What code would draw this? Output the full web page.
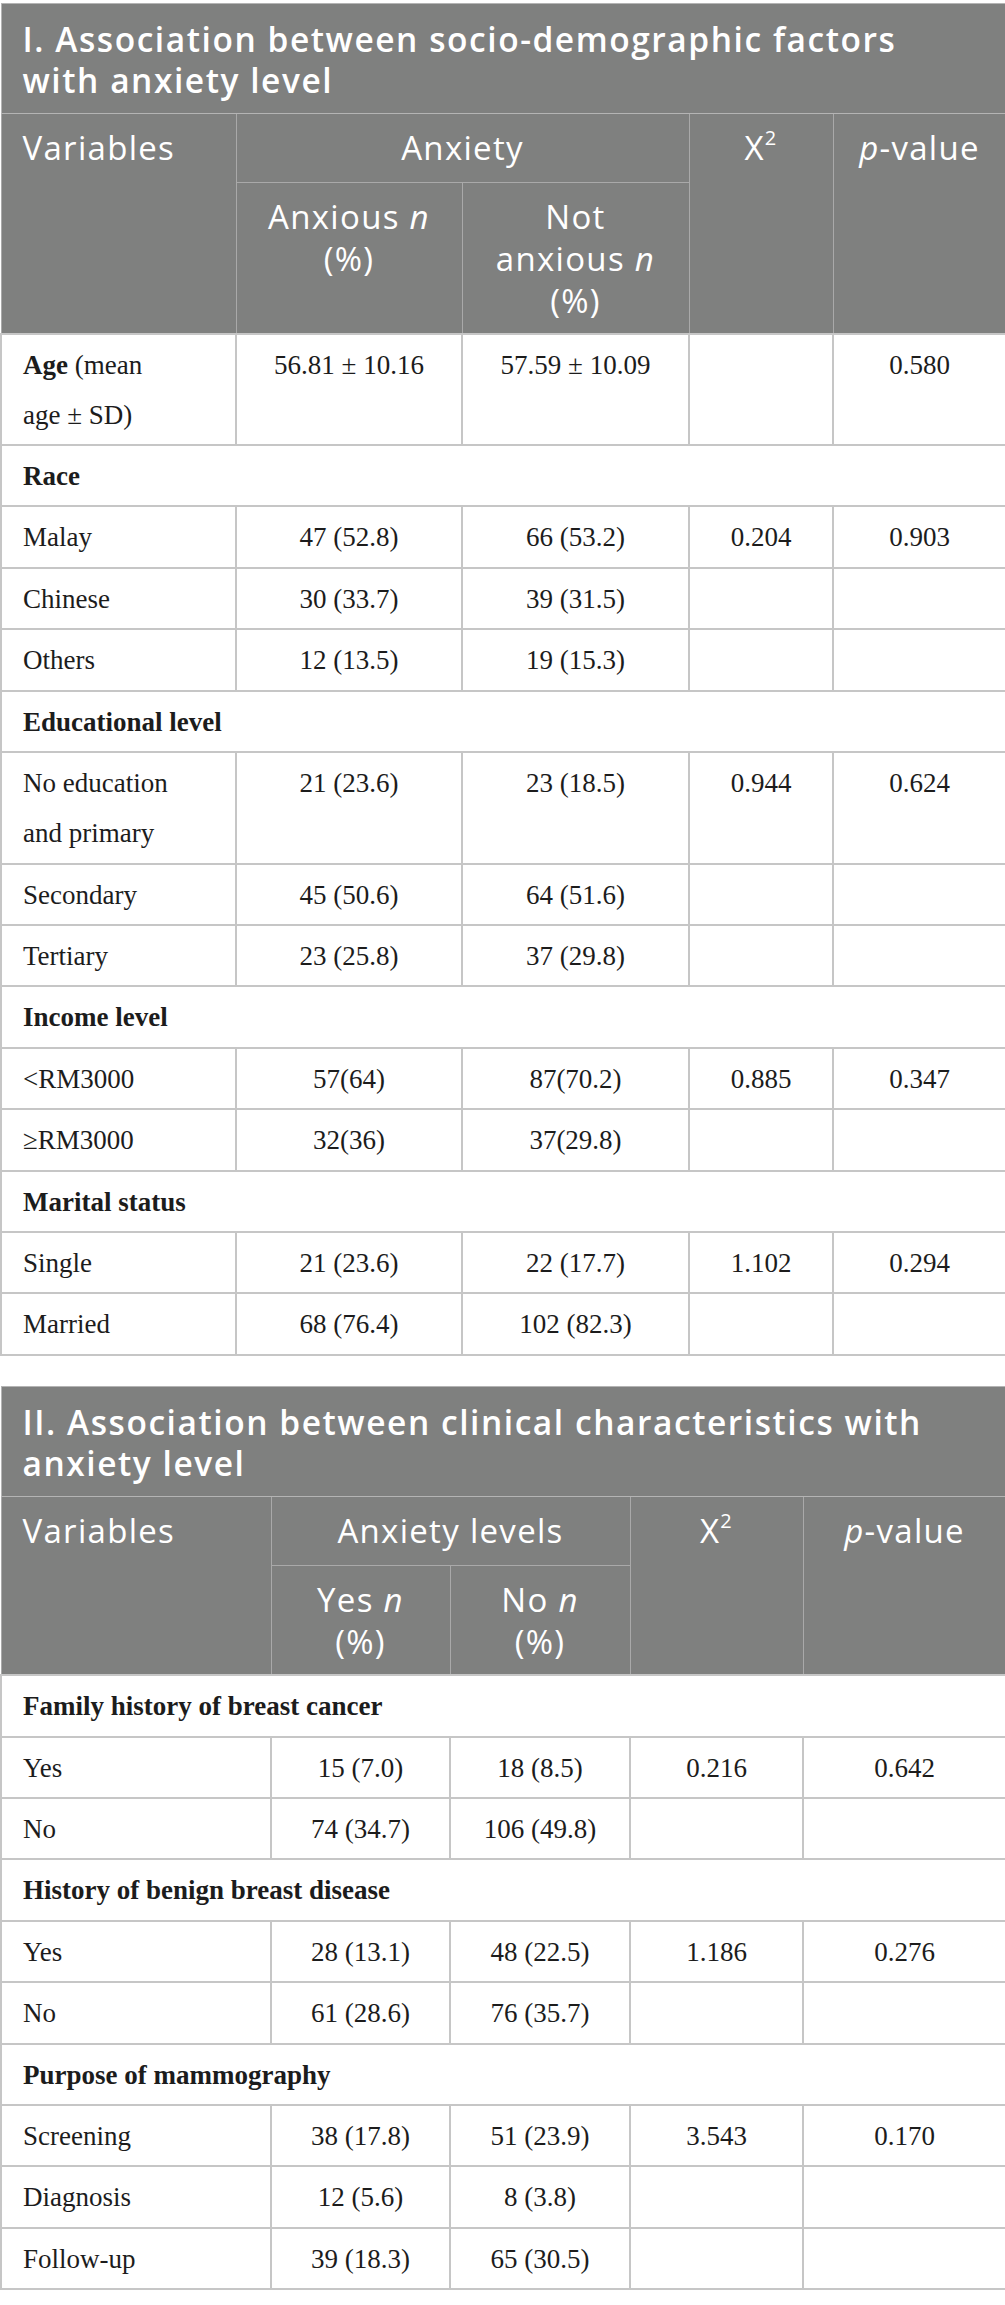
<!DOCTYPE html>
<html>
<head>
<meta charset="utf-8">
<script src="https://cdn.jsdelivr.net/npm/chart.js@4/dist/chart.umd.min.js"></script>
<style>
  html, body { margin: 0; padding: 0; background: #ffffff; }
  #wrap { width: 1005px; padding-top: 3px; }
  table { width: 1005px; border-collapse: collapse; table-layout: fixed; }
  table + table { margin-top: 30px; }
  th, td { box-sizing: border-box; vertical-align: top; }
  .title th {
    background: #7f807f; color: #ffffff; text-align: left;
    font-family: "Open Sans", "Noto Sans", sans-serif; font-weight: 600;
    font-size: 33.5px; line-height: 41px; letter-spacing: 1.55px; padding: 15px 8px 0 21px;
    border: 1px solid #b4b4b4; height: 110px; white-space: pre-line;
  }
  .head th {
    background: #7f807f; color: #ffffff; font-weight: 400;
    font-family: "Open Sans", "Noto Sans", sans-serif;
    font-size: 33px; line-height: 42px; letter-spacing: 1.3px; padding: 13px 4px 0 4px;
    border: 1px solid #a9a9a9; text-align: center;
  }
  .head th.left { text-align: left; padding-left: 21px; }
  .head sup { font-size: 20px; line-height: 0; position: relative; top: -3px; }
  td {
    font-family: "Liberation Serif", "Times New Roman", serif; font-size: 27px;
    line-height: 50.3px; color: #1c1c1c; padding: 5px 6px 0 6px;
    border: 2px solid #c6c6c6; text-align: center;
  }
  td.lab { text-align: left; padding-left: 21px; }
  tr.grp td { font-weight: bold; text-align: left; padding-left: 21px; }
  tr.body { height: 61.4px; }
  tr.body2 { height: 111.6px; }
</style>
</head>
<body>
<div id="wrap"></div>
<script>
// ---------- Table I data ----------
const t1Title = "I. Association between socio-demographic factors\nwith anxiety level";
const t1Head = ["Variables", "Anxiety", "X", "p-value"];
const t1Sub = ["Anxious |n|\n(%)", "Not\nanxious |n|\n(%)"];
const t1Widths = [235, 226, 227, 144, 173];
const t1Groups = ["Age", "Race", "Educational level", "Income level", "Marital status"];
const t1Labels = [
  [" (mean\nage ± SD)"],
  ["Malay", "Chinese", "Others"],
  ["No education\nand primary", "Secondary", "Tertiary"],
  ["<RM3000", "≥RM3000"],
  ["Single", "Married"]
];
const t1Anxious = [
  ["56.81 ± 10.16"],
  ["47 (52.8)", "30 (33.7)", "12 (13.5)"],
  ["21 (23.6)", "45 (50.6)", "23 (25.8)"],
  ["57(64)", "32(36)"],
  ["21 (23.6)", "68 (76.4)"]
];
const t1NotAnxious = [
  ["57.59 ± 10.09"],
  ["66 (53.2)", "39 (31.5)", "19 (15.3)"],
  ["23 (18.5)", "64 (51.6)", "37 (29.8)"],
  ["87(70.2)", "37(29.8)"],
  ["22 (17.7)", "102 (82.3)"]
];
const t1Chi = [[""], ["0.204", "", ""], ["0.944", "", ""], ["0.885", ""], ["1.102", ""]];
const t1P = [["0.580"], ["0.903", "", ""], ["0.624", "", ""], ["0.347", ""], ["0.294", ""]];

// ---------- Table II data ----------
const t2Title = "II. Association between clinical characteristics with\nanxiety level";
const t2Head = ["Variables", "Anxiety levels", "X", "p-value"];
const t2Sub = ["Yes |n|\n(%)", "No |n|\n(%)"];
const t2Widths = [270, 179, 180, 173, 203];
const t2Groups = ["Family history of breast cancer", "History of benign breast disease", "Purpose of mammography"];
const t2Labels = [["Yes", "No"], ["Yes", "No"], ["Screening", "Diagnosis", "Follow-up"]];
const t2Yes = [["15 (7.0)", "74 (34.7)"], ["28 (13.1)", "61 (28.6)"], ["38 (17.8)", "12 (5.6)", "39 (18.3)"]];
const t2No = [["18 (8.5)", "106 (49.8)"], ["48 (22.5)", "76 (35.7)"], ["51 (23.9)", "8 (3.8)", "65 (30.5)"]];
const t2Chi = [["0.216", ""], ["1.186", ""], ["3.543", "", ""]];
const t2P = [["0.642", ""], ["0.276", ""], ["0.170", "", ""]];

function el(tag, cls, parent) {
  const e = document.createElement(tag);
  if (cls) e.className = cls;
  if (parent) parent.appendChild(e);
  return e;
}
// writes text with line breaks; |x| marks italic parts
function put(cell, text) {
  text.split("\n").forEach((line, li) => {
    if (li > 0) el("br", null, cell);
    line.split("|").forEach((part, i) => {
      if (!part) return;
      if (i % 2 === 1) { const it = el("i", null, cell); it.textContent = part; }
      else { const sp = el("span", null, cell); sp.textContent = part; }
    });
  });
}
function buildTable(title, head, sub, widths, h2, groups, labels, c1, c2, chi, p, firstInline) {
  const t = el("table", null, document.getElementById("wrap"));
  const cg = el("colgroup", null, t);
  widths.forEach(w => { const c = el("col", null, cg); c.style.width = w + "px"; });
  const tr0 = el("tr", "title", t);
  const th0 = el("th", null, tr0); th0.colSpan = 5; th0.textContent = title;
  const tr1 = el("tr", "head", t); tr1.style.height = "69px";
  const a = el("th", "left", tr1); a.rowSpan = 2; put(a, head[0]);
  const b = el("th", null, tr1); b.colSpan = 2; put(b, head[1]);
  const c = el("th", null, tr1); c.rowSpan = 2; put(c, head[2]);
  const s = el("sup", null, c); s.textContent = "2";
  const d = el("th", null, tr1); d.rowSpan = 2;
  put(d, "|" + head[3].slice(0, 1) + "|" + head[3].slice(1));
  const tr2 = el("tr", "head", t); tr2.style.height = h2 + "px";
  sub.forEach(x => { const th = el("th", null, tr2); put(th, x); });
  groups.forEach((g, gi) => {
    if (firstInline && gi === 0) {
      const r = el("tr", "body2", t);
      const l = el("td", "lab", r);
      const bb = el("b", null, l); bb.textContent = g;
      put(l, labels[gi][0]);
      [c1[gi][0], c2[gi][0], chi[gi][0], p[gi][0]].forEach(v => { const td = el("td", null, r); put(td, v); });
      return;
    }
    const gr = el("tr", "grp body", t);
    const gt = el("td", null, gr); gt.colSpan = 5; put(gt, g);
    labels[gi].forEach((lab, li) => {
      const r = el("tr", lab.indexOf("\n") >= 0 ? "body2" : "body", t);
      const l = el("td", "lab", r); put(l, lab);
      [c1[gi][li], c2[gi][li], chi[gi][li], p[gi][li]].forEach(v => { const td = el("td", null, r); put(td, v); });
    });
  });
}
buildTable(t1Title, t1Head, t1Sub, t1Widths, 151, t1Groups, t1Labels, t1Anxious, t1NotAnxious, t1Chi, t1P, true);
buildTable(t2Title, t2Head, t2Sub, t2Widths, 110, t2Groups, t2Labels, t2Yes, t2No, t2Chi, t2P, false);
</script>
</body>
</html>
